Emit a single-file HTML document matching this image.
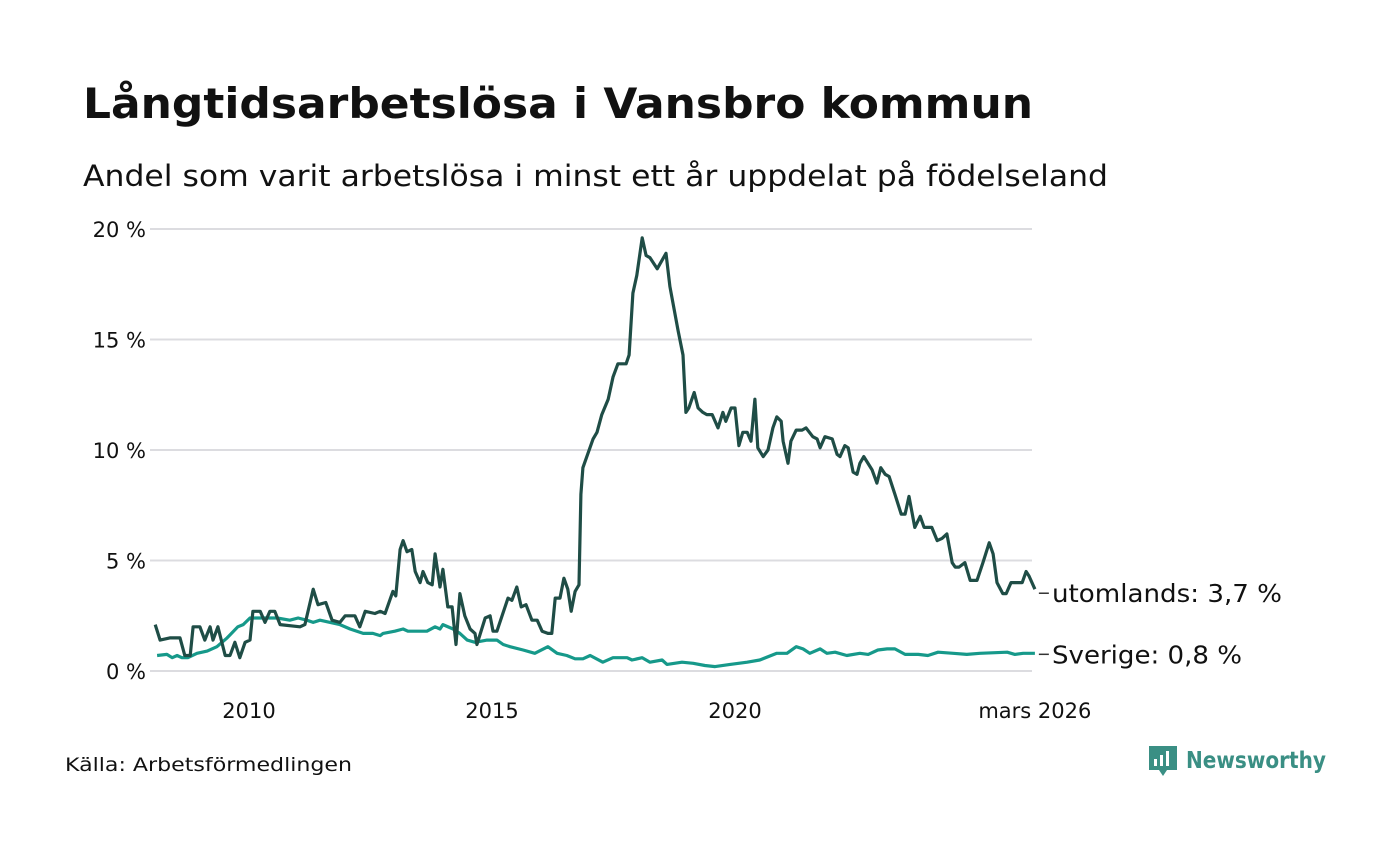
<!DOCTYPE html>
<html><head><meta charset="utf-8"><style>
body{margin:0;background:#fff;font-family:"DejaVu Sans","Liberation Sans",sans-serif;}
svg text{font-family:"DejaVu Sans","Liberation Sans",sans-serif;}
</style></head><body>
<svg id="c" width="1400" height="840" viewBox="0 0 1400 840">
<text x="83" y="118" font-size="42" font-weight="bold" fill="#111" textLength="950" lengthAdjust="spacingAndGlyphs">Långtidsarbetslösa i Vansbro kommun</text>
<text x="83" y="186" font-size="29" fill="#111" textLength="1025" lengthAdjust="spacingAndGlyphs">Andel som varit arbetslösa i minst ett år uppdelat på födelseland</text>
<g id="grid"></g>
<g id="axes"></g>
<g id="lines"></g>
<text x="65" y="771" font-size="19" fill="#111" textLength="287" lengthAdjust="spacingAndGlyphs">Källa: Arbetsförmedlingen</text>
<g>
<path d="M1149 746h28v24h-10l-4 6-4-6h-10z" fill="#3a8f84"/>
<rect x="1154" y="759" width="3" height="7" fill="#fff"/><rect x="1160" y="755" width="3" height="11" fill="#fff"/><rect x="1166" y="751" width="3" height="15" fill="#fff"/>
<text x="1186" y="768" font-size="23" font-weight="bold" fill="#3a8f84" textLength="140" lengthAdjust="spacingAndGlyphs">Newsworthy</text>
</g>
</svg>
<script>
const yTicks=[0,5,10,15,20];
const yTickLabels=["0 %","5 %","10 %","15 %","20 %"];
const xTicks=[2010,2015,2020,2026.17];
const xTickLabels=["2010","2015","2020","mars 2026"];
const abroadDates=[2008.07,2008.17,2008.37,2008.58,2008.68,2008.79,2008.85,2008.99,2009.09,2009.20,2009.26,2009.36,2009.51,2009.61,2009.71,2009.81,2009.92,2010.02,2010.08,2010.23,2010.33,2010.43,2010.53,2010.64,2011.05,2011.15,2011.32,2011.42,2011.58,2011.71,2011.87,2011.98,2012.18,2012.28,2012.39,2012.59,2012.70,2012.80,2012.96,2013.02,2013.11,2013.17,2013.25,2013.35,2013.42,2013.52,2013.58,2013.68,2013.77,2013.83,2013.93,2013.99,2014.09,2014.18,2014.26,2014.34,2014.44,2014.55,2014.65,2014.69,2014.86,2014.96,2015.02,2015.10,2015.33,2015.41,2015.51,2015.60,2015.70,2015.82,2015.93,2016.03,2016.15,2016.23,2016.30,2016.40,2016.48,2016.56,2016.63,2016.71,2016.79,2016.83,2016.87,2017.08,2017.16,2017.26,2017.39,2017.49,2017.59,2017.76,2017.82,2017.90,2017.98,2018.09,2018.17,2018.25,2018.40,2018.58,2018.66,2018.83,2018.93,2018.99,2019.05,2019.16,2019.24,2019.34,2019.42,2019.53,2019.65,2019.75,2019.81,2019.92,2020.00,2020.08,2020.16,2020.25,2020.33,2020.41,2020.47,2020.58,2020.68,2020.78,2020.86,2020.95,2020.99,2021.09,2021.15,2021.26,2021.38,2021.46,2021.60,2021.69,2021.75,2021.85,2022.00,2022.10,2022.16,2022.26,2022.33,2022.43,2022.51,2022.57,2022.65,2022.82,2022.92,2023.00,2023.09,2023.17,2023.29,2023.42,2023.50,2023.58,2023.70,2023.81,2023.89,2024.05,2024.16,2024.26,2024.36,2024.47,2024.53,2024.61,2024.73,2024.84,2024.98,2025.10,2025.23,2025.31,2025.39,2025.51,2025.58,2025.68,2025.91,2025.99,2026.05,2026.17];
const abroadValues=[2.1,1.4,1.5,1.5,0.7,0.7,2.0,2.0,1.4,2.0,1.4,2.0,0.7,0.7,1.3,0.6,1.3,1.4,2.7,2.7,2.2,2.7,2.7,2.1,2.0,2.1,3.7,3.0,3.1,2.3,2.2,2.5,2.5,2.0,2.7,2.6,2.7,2.6,3.6,3.4,5.5,5.9,5.4,5.5,4.5,4.0,4.5,4.0,3.9,5.3,3.8,4.6,2.9,2.9,1.2,3.5,2.5,1.9,1.7,1.2,2.4,2.5,1.8,1.8,3.3,3.2,3.8,2.9,3.0,2.3,2.3,1.8,1.7,1.7,3.3,3.3,4.2,3.7,2.7,3.6,3.9,8.0,9.2,10.5,10.8,11.6,12.3,13.3,13.9,13.9,14.3,17.1,17.9,19.6,18.8,18.7,18.2,18.9,17.4,15.4,14.3,11.7,11.9,12.6,11.9,11.7,11.6,11.6,11.0,11.7,11.3,11.9,11.9,10.2,10.8,10.8,10.4,12.3,10.1,9.7,10.0,11.0,11.5,11.3,10.4,9.4,10.4,10.9,10.9,11.0,10.6,10.5,10.1,10.6,10.5,9.8,9.7,10.2,10.1,9.0,8.9,9.4,9.7,9.1,8.5,9.2,8.9,8.8,8.0,7.1,7.1,7.9,6.5,7.0,6.5,6.5,5.9,6.0,6.2,4.9,4.7,4.7,4.9,4.1,4.1,4.9,5.8,5.3,4.0,3.5,3.5,4.0,4.0,4.5,4.3,3.7];
const swedenDates=[2008.11,2008.31,2008.42,2008.52,2008.62,2008.74,2008.93,2009.14,2009.34,2009.55,2009.77,2009.88,2010.02,2010.16,2010.37,2010.58,2010.84,2011.01,2011.19,2011.32,2011.46,2011.67,2011.87,2012.08,2012.35,2012.55,2012.70,2012.76,2013.00,2013.17,2013.27,2013.66,2013.83,2013.93,2013.99,2014.20,2014.34,2014.49,2014.65,2014.90,2015.10,2015.23,2015.37,2015.64,2015.88,2016.15,2016.34,2016.54,2016.71,2016.87,2017.02,2017.28,2017.49,2017.78,2017.88,2018.09,2018.25,2018.50,2018.60,2018.91,2019.14,2019.38,2019.59,2019.90,2020.25,2020.51,2020.86,2021.07,2021.26,2021.40,2021.54,2021.75,2021.89,2022.06,2022.30,2022.57,2022.74,2022.94,2023.13,2023.29,2023.50,2023.77,2023.97,2024.18,2024.49,2024.77,2025.04,2025.60,2025.76,2025.93,2026.17];
const swedenValues=[0.7,0.75,0.6,0.7,0.6,0.6,0.8,0.9,1.1,1.5,2.0,2.1,2.4,2.4,2.4,2.4,2.3,2.4,2.3,2.2,2.3,2.2,2.1,1.9,1.7,1.7,1.6,1.7,1.8,1.9,1.8,1.8,2.0,1.9,2.1,1.9,1.7,1.4,1.3,1.4,1.4,1.2,1.1,0.95,0.8,1.1,0.8,0.7,0.55,0.55,0.7,0.4,0.6,0.6,0.5,0.6,0.4,0.5,0.3,0.4,0.35,0.25,0.2,0.3,0.4,0.5,0.8,0.8,1.1,1.0,0.8,1.0,0.8,0.85,0.7,0.8,0.75,0.95,1.0,1.0,0.75,0.75,0.7,0.85,0.8,0.75,0.8,0.85,0.75,0.8,0.8];
const seriesLabels=["utomlands: 3,7 %","Sverige: 0,8 %"];

const NS="http://www.w3.org/2000/svg";
const X0=150,X1=1032;
function xs(t){return 249+(t-2010)*48.6;}
function ys(v){return 671-v*22.1;}
function mk(tag,attrs,parent){const e=document.createElementNS(NS,tag);for(const k in attrs)e.setAttribute(k,attrs[k]);parent.appendChild(e);return e;}
const grid=document.getElementById('grid'),axes=document.getElementById('axes'),lines=document.getElementById('lines');
yTicks.forEach((v,i)=>{
  const l=mk('line',{x1:X0,x2:X1,y1:ys(v),y2:ys(v),stroke:'#dcdce0','stroke-width':2},grid);
  
  
  const t=mk('text',{x:146,y:ys(v)+8,'text-anchor':'end','font-size':21,fill:'#111'},axes);
  t.textContent=yTickLabels[i];
  
  
});
xTicks.forEach((v,i)=>{
  const t=mk('text',{x:xs(v),y:718,'text-anchor':'middle','font-size':21,fill:'#111'},axes);
  t.textContent=xTickLabels[i];
  
  
});
function drawLine(d,v,color,name,label,len){
  const pts=d.map((t,i)=>xs(t).toFixed(1)+','+ys(v[i]).toFixed(1)).join(' ');
  const p=mk('polyline',{points:pts,fill:'none',stroke:color,'stroke-width':3.2,'stroke-linejoin':'round'},lines);
  
  
  const last=v[v.length-1],ly=ys(last)+(name==='line-abroad'?4:1);
  const ld=mk('line',{x1:xs(d[d.length-1])+4,x2:xs(d[d.length-1])+14,y1:ly,y2:ly,stroke:'#333','stroke-width':1.5},lines);
  
  
  const t=mk('text',{x:1052,y:ly+9,'font-size':25,fill:'#111',textLength:len,lengthAdjust:'spacingAndGlyphs'},lines);
  t.textContent=label;
  
  
}
drawLine(swedenDates,swedenValues,'#16998a','line-sweden',seriesLabels[1],190);
drawLine(abroadDates,abroadValues,'#1f4d46','line-abroad',seriesLabels[0],230);
</script>
</body></html>
